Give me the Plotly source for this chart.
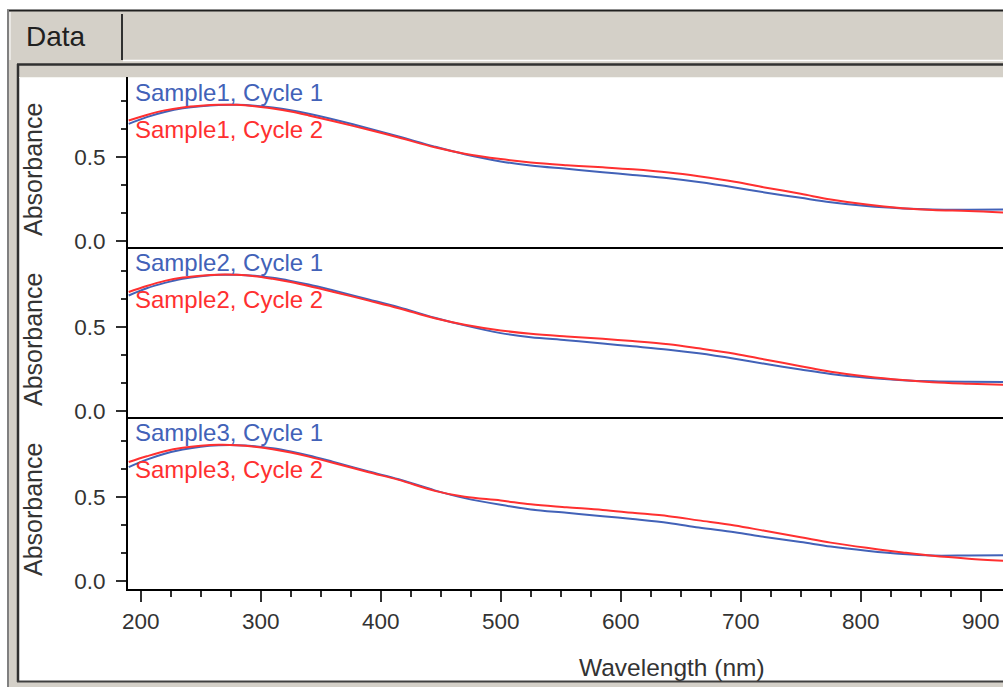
import plotly.graph_objects as go
from plotly.subplots import make_subplots

# ---------------- data ----------------
wavelength = [190, 205, 220, 235, 250, 265, 280, 295, 310, 325, 340, 360, 390, 415, 445,
              470, 500, 525, 555, 585, 610, 640, 665, 695, 720, 750, 775, 805, 835, 860, 890, 920]

s1_cycle1 = [0.695, 0.735, 0.765, 0.787, 0.800, 0.807, 0.808, 0.803, 0.792, 0.776, 0.755, 0.722,
             0.668, 0.620, 0.560, 0.515, 0.472, 0.448, 0.428, 0.408, 0.392, 0.372, 0.350, 0.318,
             0.288, 0.256, 0.230, 0.207, 0.193, 0.187, 0.186, 0.187]
s1_cycle2 = [0.715, 0.748, 0.775, 0.792, 0.802, 0.808, 0.808, 0.800, 0.786, 0.768, 0.745, 0.712,
             0.660, 0.614, 0.556, 0.518, 0.486, 0.466, 0.450, 0.437, 0.425, 0.406, 0.384, 0.352,
             0.318, 0.280, 0.246, 0.216, 0.195, 0.184, 0.178, 0.168]

s2_cycle1 = [0.685, 0.728, 0.760, 0.785, 0.800, 0.808, 0.808, 0.802, 0.790, 0.772, 0.750, 0.716,
             0.662, 0.616, 0.553, 0.508, 0.462, 0.438, 0.420, 0.400, 0.384, 0.364, 0.342, 0.310,
             0.280, 0.246, 0.220, 0.198, 0.183, 0.176, 0.173, 0.172]
s2_cycle2 = [0.706, 0.742, 0.772, 0.792, 0.803, 0.809, 0.808, 0.800, 0.784, 0.765, 0.742, 0.708,
             0.655, 0.610, 0.550, 0.512, 0.478, 0.458, 0.442, 0.428, 0.415, 0.396, 0.372, 0.340,
             0.306, 0.266, 0.233, 0.205, 0.184, 0.171, 0.162, 0.155]

s3_cycle1 = [0.676, 0.720, 0.755, 0.780, 0.797, 0.805, 0.806, 0.800, 0.787, 0.768, 0.745, 0.708,
             0.650, 0.604, 0.538, 0.492, 0.452, 0.425, 0.405, 0.385, 0.368, 0.345, 0.318, 0.290,
             0.262, 0.232, 0.205, 0.180, 0.160, 0.151, 0.152, 0.154]
s3_cycle2 = [0.706, 0.740, 0.770, 0.790, 0.802, 0.808, 0.806, 0.797, 0.782, 0.762, 0.738, 0.702,
             0.645, 0.600, 0.535, 0.500, 0.478, 0.455, 0.438, 0.422, 0.405, 0.385, 0.360, 0.330,
             0.298, 0.260, 0.228, 0.197, 0.170, 0.150, 0.133, 0.120]

samples = ["Sample1", "Sample2", "Sample3"]
cycle_labels = ["Cycle 1", "Cycle 2"]
panel_data = [(s1_cycle1, s1_cycle2), (s2_cycle1, s2_cycle2), (s3_cycle1, s3_cycle2)]

x_ticks = [200, 300, 400, 500, 600, 700, 800, 900]
y_ticks = [0.0, 0.5]
y_tick_text = ["0.0", "0.5"]

# ---------------- style ----------------
W, H = 1003, 687
PL, PR, PT, PB = 128, 1003, 77, 589  # plot area in pixels
BLUE = "#4262B8"
RED = "#FF3030"
GRAY = "#D4D0C8"
FONT = "Liberation Sans, Arial, sans-serif"


def px(x):
    return (x - PL) / (PR - PL)


def py(y):
    return (PB - y) / (PB - PT)


panel_px = [(77, 247), (247, 417), (417, 589)]
yranges = [[-0.0356, 0.973], [-0.0356, 0.973], [-0.047, 0.973]]

fig = make_subplots(rows=3, cols=1, shared_xaxes=True, vertical_spacing=0)

for i, (c1, c2) in enumerate(panel_data):
    fig.add_trace(go.Scatter(x=wavelength, y=c1, mode="lines", line=dict(color=BLUE, width=2, shape="spline"),
                             name=f"{samples[i]}, {cycle_labels[0]}", showlegend=False), row=i + 1, col=1)
    fig.add_trace(go.Scatter(x=wavelength, y=c2, mode="lines", line=dict(color=RED, width=2, shape="spline"),
                             name=f"{samples[i]}, {cycle_labels[1]}", showlegend=False), row=i + 1, col=1)

for i in range(3):
    top, bot = panel_px[i]
    dom = [py(bot), py(top)]
    yname = "yaxis" if i == 0 else f"yaxis{i + 1}"
    xname = "xaxis" if i == 0 else f"xaxis{i + 1}"
    fig.layout[yname].update(
        domain=dom, range=yranges[i], showgrid=False, zeroline=False,
        showline=True, linecolor="black", linewidth=2,
        tickmode="array", tickvals=y_ticks, ticktext=y_tick_text,
        ticks="outside", ticklen=10, tickwidth=2, tickcolor="#303030",
        tickfont=dict(family=FONT, size=22.5, color="#333333"),
        ticklabelstandoff=6,
        minor=dict(dtick=0.5 / 3, tick0=0, ticks="outside", ticklen=5, tickwidth=2, tickcolor="#303030"),
    )
    last = i == 2
    fig.layout[xname].update(
        range=[189.4, 918.6], showgrid=False, zeroline=False,
        showline=True, linecolor="black", linewidth=2,
        tickmode="array", tickvals=x_ticks if last else [],
        ticks="outside" if last else "", ticklen=11, tickwidth=2, tickcolor="#303030",
        showticklabels=last,
        tickfont=dict(family=FONT, size=22.5, color="#333333"),
        minor=dict(dtick=25, tick0=0, ticks="outside", ticklen=6, tickwidth=2, tickcolor="#303030") if last else dict(ticks=""),
    )

shapes = []
# window gray background
shapes.append(dict(type="rect", xref="paper", yref="paper", x0=px(7), x1=px(1010), y0=py(10), y1=py(690),
                   fillcolor=GRAY, line=dict(width=0), layer="below"))
# outer frame lines
shapes.append(dict(type="line", xref="paper", yref="paper", x0=px(7), x1=px(1010), y0=py(10.5), y1=py(10.5),
                   line=dict(color="#202020", width=2), layer="below"))
shapes.append(dict(type="line", xref="paper", yref="paper", x0=px(8), x1=px(8), y0=py(10), y1=py(690),
                   line=dict(color="#808080", width=2), layer="below"))
# tab edges
shapes.append(dict(type="line", xref="paper", yref="paper", x0=px(122), x1=px(122), y0=py(14), y1=py(60),
                   line=dict(color="#303030", width=2), layer="below"))
shapes.append(dict(type="line", xref="paper", yref="paper", x0=px(10), x1=px(10), y0=py(12), y1=py(60),
                   line=dict(color="#FFFFFF", width=1), layer="below"))
shapes.append(dict(type="line", xref="paper", yref="paper", x0=px(123), x1=px(1010), y0=py(60.5), y1=py(60.5),
                   line=dict(color="#FFFFFF", width=1.5), layer="below"))
# inner panel white area
shapes.append(dict(type="rect", xref="paper", yref="paper", x0=px(19), x1=px(1010), y0=py(77), y1=py(681),
                   fillcolor="white", line=dict(width=0), layer="below"))
# inner panel border
shapes.append(dict(type="line", xref="paper", yref="paper", x0=px(17), x1=px(1010), y0=py(64.5), y1=py(64.5),
                   line=dict(color="#303030", width=2.5), layer="below"))
shapes.append(dict(type="line", xref="paper", yref="paper", x0=px(18), x1=px(18), y0=py(64), y1=py(682),
                   line=dict(color="#303030", width=2.5), layer="below"))
shapes.append(dict(type="line", xref="paper", yref="paper", x0=px(17), x1=px(1010), y0=py(681.5), y1=py(681.5),
                   line=dict(color="#404040", width=2), layer="below"))
shapes.append(dict(type="line", xref="paper", yref="paper", x0=px(19), x1=px(1010), y0=py(77.5), y1=py(77.5),
                   line=dict(color="#F4F4F0", width=1), layer="below"))

annotations = []
annotations.append(dict(text="Data", xref="paper", yref="paper", x=px(56), y=py(36), xanchor="center", yanchor="middle",
                        showarrow=False, font=dict(family=FONT, size=28, color="#202020")))
for i in range(3):
    off = 170 * i
    annotations.append(dict(text="Absorbance", xref="paper", yref="paper", x=px(33), y=py(170 + off),
                            xanchor="center", yanchor="middle", textangle=-90, showarrow=False,
                            font=dict(family=FONT, size=25, color="#333333")))
    annotations.append(dict(text=f"{samples[i]}, {cycle_labels[0]}", xref="paper", yref="paper", x=px(133), y=py(92 + off),
                            xanchor="left", yanchor="middle", showarrow=False,
                            font=dict(family=FONT, size=24, color=BLUE)))
    annotations.append(dict(text=f"{samples[i]}, {cycle_labels[1]}", xref="paper", yref="paper", x=px(133), y=py(129 + off),
                            xanchor="left", yanchor="middle", showarrow=False,
                            font=dict(family=FONT, size=24, color=RED)))
annotations.append(dict(text="Wavelength (nm)", xref="paper", yref="paper", x=px(672), y=py(667),
                        xanchor="center", yanchor="middle", showarrow=False,
                        font=dict(family=FONT, size=24.5, color="#333333")))

fig.update_layout(
    width=W, height=H,
    margin=dict(l=PL, r=W - PR, t=PT, b=H - PB, pad=0),
    paper_bgcolor="white", plot_bgcolor="white",
    shapes=shapes, annotations=annotations, showlegend=False,
)

fig.write_html("out.html", config={"displayModeBar": False},
               post_script="document.body.style.margin='0';document.body.style.overflow='hidden';")
